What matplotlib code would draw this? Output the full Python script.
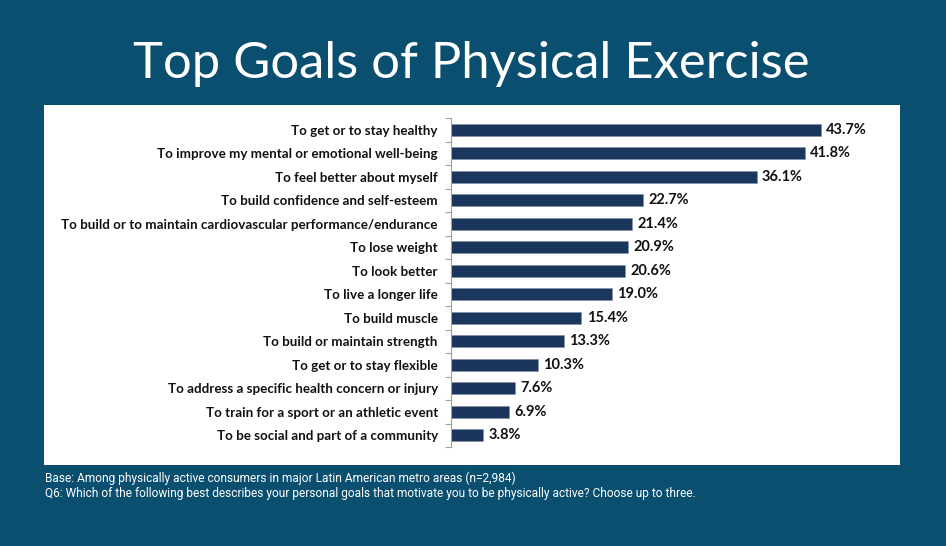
import matplotlib.pyplot as plt
from matplotlib.patches import Rectangle
import numpy as np

goals = [
    "To get or to stay healthy",
    "To improve my mental or emotional well-being",
    "To feel better about myself",
    "To build confidence and self-esteem",
    "To build or to maintain cardiovascular performance/endurance",
    "To lose weight",
    "To look better",
    "To live a longer life",
    "To build muscle",
    "To build or maintain strength",
    "To get or to stay flexible",
    "To address a specific health concern or injury",
    "To train for a sport or an athletic event",
    "To be social and part of a community",
]
shares = [43.7, 41.8, 36.1, 22.7, 21.4, 20.9, 20.6, 19.0, 15.4, 13.3, 10.3, 7.6, 6.9, 3.8]

title = "Top Goals of Physical Exercise"
note1 = "Base: Among physically active consumers in major Latin American metro areas (n=2,984)"
note2 = ("Q6: Which of the following best describes your personal goals that motivate you "
         "to be physically active? Choose up to three.")

bg = "#0a4f70"
bar_col = "#1b365d"

W, H = 946, 546
fig = plt.figure(figsize=(W / 100, H / 100), dpi=100, facecolor=bg)

# white panel behind the chart
fig.patches.append(Rectangle((44 / W, 1 - 465 / H), (900 - 44) / W, 360 / H,
                             transform=fig.transFigure, facecolor="white",
                             edgecolor="none", zorder=-10))

fig.text(471 / W, 1 - 64 / H, title, color="white", fontsize=36.5,
         family="Lato", ha="center", va="center")

left, right = 451, 890
top, bottom = 118, 447
ax = fig.add_axes([left / W, 1 - bottom / H, (right - left) / W, (bottom - top) / H])
ax.set_facecolor("none")
ax.set_zorder(5)

y = np.arange(len(goals))
ax.barh(y, shares, height=0.52, color=bar_col, edgecolor="#7f8fa6", linewidth=0.4)
ax.set_xlim(0, (right - left) / 8.47)
ax.set_ylim(len(goals) - 0.5, -0.5)

for yi, v in zip(y, shares):
    ax.text(v + 0.6, yi, f"{v:.1f}%", va="center", ha="left", fontsize=10.5,
            fontweight="bold", family="Lato", color="#111111")

ax.set_yticks(y)
ax.set_yticklabels(goals, fontsize=9.6, fontweight="bold", family="Lato", color="#111111")
ax.set_yticks(np.arange(len(goals) + 1) - 0.5, minor=True)
ax.tick_params(axis="y", which="major", length=0, pad=9.5)
ax.tick_params(axis="y", which="minor", length=4, color="#a0a0a0", width=0.8)
ax.set_xticks([])
for s in ["top", "right", "bottom"]:
    ax.spines[s].set_visible(False)
ax.spines["left"].set_color("#a0a0a0")
ax.spines["left"].set_linewidth(0.8)

fig.text(45 / W, 1 - 478 / H, note1, color="white", fontsize=8.6,
         family="Roboto", ha="left", va="center")
fig.text(45 / W, 1 - 494 / H, note2, color="white", fontsize=8.6,
         family="Roboto", ha="left", va="center")

fig.savefig("out.png", dpi=100, facecolor=bg)
